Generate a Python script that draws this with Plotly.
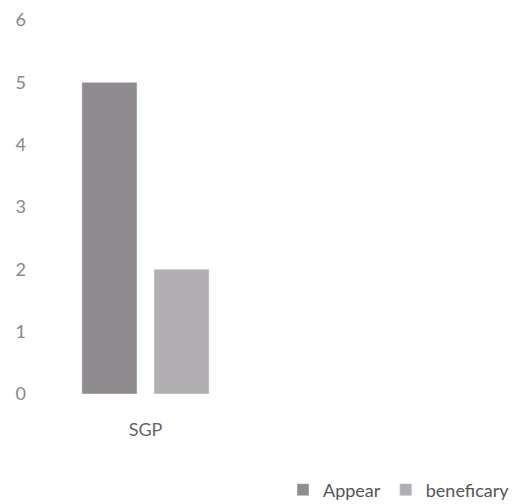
import plotly.graph_objects as go

categories = ["SGP"]
appear = [5]
beneficary = [2]
y_ticks = [0, 1, 2, 3, 4, 5, 6]

fig = go.Figure()
fig.add_trace(go.Bar(name="Appear", x=categories, y=appear, marker_color="#8f8b8e"))
fig.add_trace(go.Bar(name="beneficary", x=categories, y=beneficary, marker_color="#b2afb3"))

# page body has an 8px margin, so the figure is sized to the visible area
W, H = 509, 496
ml, mr, mt, mb = 19, 2, 12, 110
plot_w = W - ml - mr
plot_h = H - mt - mb
fig.update_layout(
    width=W, height=H,
    margin=dict(l=ml, r=mr, t=mt, b=mb, autoexpand=False),
    paper_bgcolor="white", plot_bgcolor="white",
    barmode="group", bargap=0.392, bargroupgap=0.236,
    font=dict(family="Lato, Open Sans, sans-serif", size=18, color="#777777"),
    xaxis=dict(domain=[0, 237 / plot_w], showgrid=False, showline=False, zeroline=False,
               automargin=False, ticks="", ticklabelstandoff=23,
               tickfont=dict(size=18, color="#666666")),
    yaxis=dict(range=[0, 6], tickvals=y_ticks, showgrid=False, showline=False, zeroline=False,
               automargin=False, ticks="", tickfont=dict(size=18, color="#888888")),
    legend=dict(orientation="h", x=1.0, xanchor="right", y=(386 - 482) / plot_h, yanchor="middle",
                font=dict(size=18, color="#555555"), itemwidth=30, traceorder="normal"),
    showlegend=True,
)
fig.write_html("out.html")
